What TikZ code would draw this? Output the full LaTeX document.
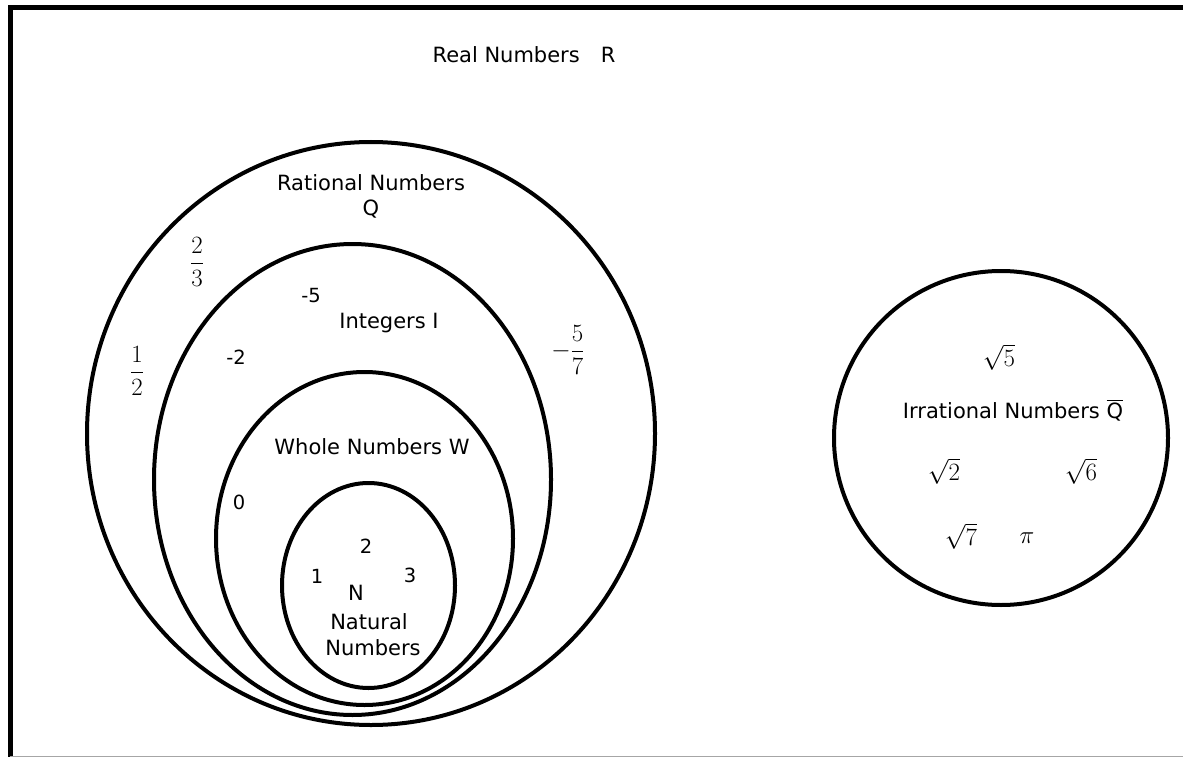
\documentclass[tikz,border=0pt]{standalone}
\usepackage{amsmath}
\usepackage{fontspec}
\setmainfont{DejaVu Sans}
\begin{document}
\begin{tikzpicture}[x=1pt,y=-1pt,
  setline/.style={line width=4pt},
  lbl/.style={font=\fontsize{21}{24}\selectfont, inner sep=0pt},
  num/.style={font=\fontsize{19.5}{22}\selectfont, inner sep=0pt},
  mth/.style={font=\fontsize{27}{30}\selectfont, inner sep=0pt}]
\useasboundingbox (0,0) rectangle (1183,757);
\fill[white] (0,0) rectangle (1183,757);
% frame
\draw[line width=5pt] (10,757) -- (10,7.5) -- (1183,7.5);
\draw[black!35, line width=1pt] (10,756.5) -- (1183,756.5);
% sets
\draw[setline] (371,433.5) ellipse [x radius=284pt, y radius=291.5pt];
\draw[setline] (352.5,479.5) ellipse [x radius=198.5pt, y radius=235.5pt];
\draw[setline] (364.5,538.5) ellipse [x radius=148.5pt, y radius=166.5pt];
\draw[setline] (368.5,585.5) ellipse [x radius=86.5pt, y radius=102.5pt];
\draw[setline] (1001,438) circle [radius=167pt];
% labels
\node[lbl] (real) at (524,55) {Real Numbers\quad R};
\node[lbl] (ratl) at (371,183) {Rational Numbers};
\node[lbl] (ratq) at (371,209) {Q};
\node[lbl] (intl) at (389,323) {Integers I};
\node[lbl] (whol) at (372,447) {Whole Numbers W};
\node[lbl] (natn) at (356,593) {N};
\node[lbl] (natl) at (369,622) {Natural};
\node[lbl] (natm) at (373,648) {Numbers};
\node[lbl] (irrl) at (1013,410) {Irrational Numbers $\overline{\mbox{Q}}$};
% rational members
\node[mth] (f23) at (197,262) {$\dfrac{2}{3}$};
\node[mth] (f12) at (137,371) {$\dfrac{1}{2}$};
\node[mth] (f57) at (568,350) {$-\dfrac{5}{7}$};
% integers
\node[num] (m5) at (311,296) {-5};
\node[num] (m2) at (236,357) {-2};
% whole
\node[num] (z0) at (239,502) {0};
% natural
\node[num] (n2) at (366,546) {2};
\node[num] (n1) at (317,576) {1};
\node[num] (n3) at (410,575) {3};
% irrational members
\node[mth] (s5) at (999,357) {$\sqrt{5}$};
\node[mth] (s2) at (944,471) {$\sqrt{2}$};
\node[mth] (s6) at (1081,471) {$\sqrt{6}$};
\node[mth] (s7) at (961,536) {$\sqrt{7}$};
\node[mth] (pi) at (1027,538) {$\pi$};
\end{tikzpicture}
\end{document}
